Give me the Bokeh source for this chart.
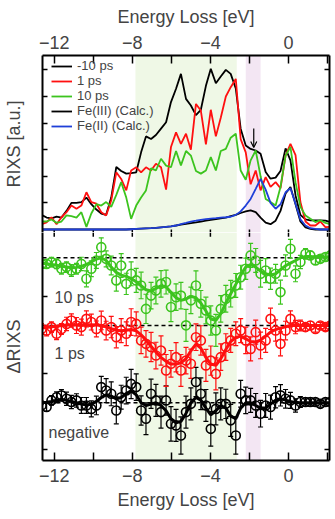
from bokeh.plotting import figure
from bokeh.layouts import column
from bokeh.models import (Range1d, LinearAxis, FixedTicker, CustomJSTickFormatter,
                          BoxAnnotation, Span, Label, Legend, LegendItem, Whisker,
                          TeeHead, ColumnDataSource, Arrow, OpenHead)
from bokeh.embed import file_html
from bokeh.resources import INLINE

# ---------------- data ----------------
energy = [-12.65, -12.39, -12.14, -11.88, -11.63, -11.37, -11.12, -10.86, -10.61, -10.35,
          -10.10, -9.84, -9.59, -9.34, -9.08, -8.82, -8.57, -8.31, -8.06, -7.80,
          -7.55, -7.30, -7.04, -6.79, -6.53, -6.27, -6.02, -5.76, -5.51, -5.25,
          -5.00, -4.74, -4.49, -4.23, -3.98, -3.72, -3.47, -3.21, -2.96, -2.70,
          -2.45, -2.19, -1.94, -1.68, -1.43, -1.17, -0.92, -0.66, -0.41, -0.15,
          0.10, 0.36, 0.61, 0.87, 1.12, 1.38, 1.63, 1.89, 2.14]

rixs_m10ps = [0.55, 0.45, 0.42, 0.48, 0.45, 0.70, 1.00, 1.00, 1.03, 1.20,
              0.95, 0.75, 0.60, 0.55, 1.20, 2.35, 2.20, 2.10, 2.12, 2.15,
              2.90, 3.50, 3.40, 3.55, 3.79, 4.03, 4.79, 5.29, 5.85, 4.91,
              4.66, 4.30, 4.50, 5.40, 6.04, 5.50, 5.75, 6.00, 5.85, 5.30,
              3.79, 3.16, 3.03, 2.97, 2.85, 2.16, 1.91, 1.95, 2.20, 3.05,
              2.60, 1.28, 0.55, 0.38, 0.34, 0.34, 0.34, 0.33, 0.28]
rixs_1ps = [0.20, 0.27, 0.46, 0.20, 0.46, 0.65, 0.90, 0.78, 0.90, 1.40,
            1.03, 0.97, 0.65, 0.53, 1.09, 2.15, 1.90, 1.47, 2.22, 2.34,
            2.15, 2.34, 2.22, 2.47, 2.34, 1.50, 3.10, 3.65, 3.22, 3.60,
            3.00, 4.72, 4.47, 3.20, 4.50, 3.50, 4.20, 5.00, 5.35, 5.66,
            3.40, 2.90, 1.70, 2.22, 1.47, 1.97, 1.60, 1.78, 1.55, 2.78,
            3.22, 2.80, 1.03, 0.30, 0.15, 0.15, 0.30, 0.09, 0.10]
rixs_10ps = [0.30, 0.30, 0.38, 0.25, 0.30, 0.53, 0.50, 0.45, 0.65, 0.10,
             0.60, 0.95, 0.90, 1.03, 0.85, 1.30, 1.78, 1.20, 0.40, 0.90,
             1.20, 1.47, 2.30, 2.22, 2.66, 2.40, 2.34, 2.95, 2.41, 2.95,
             2.78, 2.20, 2.10, 2.22, 2.72, 2.22, 2.95, 3.03, 3.45, 3.60,
             2.22, 1.87, 2.60, 2.97, 2.00, 1.15, 1.03, 0.90, 1.60, 2.78,
             3.10, 1.78, 0.85, 0.53, 0.40, 0.28, 0.35, 0.25, 0.20]
calc_fe3 = [0, 0, 0, 0, 0, 0, 0, 0, 0, 0,
            0, 0, 0, 0, 0, 0, 0, 0, 0.01, 0.02,
            0.03, 0.04, 0.05, 0.06, 0.08, 0.10, 0.12, 0.15, 0.18, 0.21,
            0.24, 0.27, 0.30, 0.33, 0.36, 0.39, 0.42, 0.45, 0.50, 0.55,
            0.62, 0.68, 0.72, 0.65, 0.45, 0.26, 0.20, 0.33, 0.70, 1.35,
            1.60, 0.95, 0.30, 0.08, 0.02, 0, 0, 0, 0]
calc_fe2 = [0, 0, 0, 0, 0, 0, 0, 0, 0, 0,
            0, 0, 0, 0, 0, 0, 0, 0, 0.01, 0.02,
            0.03, 0.04, 0.05, 0.06, 0.08, 0.10, 0.12, 0.15, 0.20, 0.25,
            0.30, 0.33, 0.36, 0.39, 0.41, 0.43, 0.45, 0.46, 0.48, 0.55,
            0.68, 0.90, 1.15, 1.53, 1.90, 1.50, 1.00, 0.78, 0.95, 1.40,
            1.55, 0.97, 0.38, 0.15, 0.05, 0.02, 0, 0, 0]

d_10ps = [-0.23, -0.23, -0.16, -0.23, -0.41, -0.35, -0.48, -0.41, -0.23, -0.79,
          -0.41, -0.10, 0.40, -0.04, -0.29, -0.85, -0.29, -0.98, -0.60, -0.85,
          -1.04, -1.92, -1.42, -1.23, -0.98, -0.91, -1.85, -1.48, -1.42, -2.54,
          -1.60, -1.04, -1.73, -1.98, -2.36, -2.73, -1.92, -1.54, -1.35, -1.04,
          -0.73, -0.41, 0.09, -0.10, -0.60, -0.48, -0.79, -0.60, -1.29, -0.29,
          0.34, -0.60, -0.16, 0.15, 0.09, -0.10, -0.04, 0.03, 0.09]
d_10ps_fit = [-0.20, -0.22, -0.25, -0.28, -0.32, -0.35, -0.37, -0.36, -0.32, -0.25,
              -0.15, -0.05, 0.00, -0.10, -0.35, -0.55, -0.65, -0.70, -0.78, -0.90,
              -1.05, -1.20, -1.25, -1.15, -1.05, -1.10, -1.30, -1.50, -1.60, -1.55,
              -1.45, -1.50, -1.70, -2.00, -2.30, -2.35, -2.10, -1.70, -1.35, -1.00,
              -0.65, -0.35, -0.25, -0.35, -0.50, -0.60, -0.65, -0.60, -0.45, -0.30,
              -0.20, -0.10, 0.00, 0.05, 0.05, 0.03, 0.02, 0.03, 0.05]
d_10ps_err = [0.15, 0.15, 0.18, 0.18, 0.20, 0.20, 0.22, 0.20, 0.25, 0.30,
              0.30, 0.30, 0.35, 0.30, 0.35, 0.40, 0.45, 0.40, 0.45, 0.45,
              0.50, 0.55, 0.50, 0.50, 0.50, 0.45, 0.55, 0.50, 0.50, 0.60,
              0.50, 0.55, 0.50, 0.50, 0.55, 0.60, 0.50, 0.50, 0.50, 0.45,
              0.45, 0.40, 0.45, 0.45, 0.50, 0.45, 0.40, 0.35, 0.45, 0.40,
              0.35, 0.30, 0.25, 0.20, 0.15, 0.15, 0.12, 0.12, 0.12]

d_1ps = [-0.13, -0.19, -0.06, -0.31, -0.13, 0.06, 0.19, 0.00, -0.06, 0.25,
         0.13, -0.13, 0.19, -0.19, -0.06, -0.44, -0.19, -0.31, 0.13, 0.06,
         -0.56, -0.69, -0.81, -1.13, -0.94, -1.69, -1.44, -1.19, -1.69, -1.32,
         -1.44, -0.44, -0.56, -1.50, -1.32, -1.82, -1.19, -0.81, -0.56, -0.31,
         -0.19, -0.56, -0.88, -0.25, -0.75, -0.56, 0.25, -0.19, -0.69, -0.19,
         0.25, -0.06, 0.00, -0.06, 0.00, -0.13, 0.00, -0.06, 0.00]
d_1ps_fit = [-0.10, -0.08, -0.05, -0.03, 0.00, 0.02, 0.03, 0.02, 0.00, 0.02,
             0.03, 0.02, 0.00, -0.05, -0.12, -0.18, -0.20, -0.18, -0.15, -0.20,
             -0.35, -0.55, -0.78, -1.00, -1.20, -1.35, -1.45, -1.45, -1.40, -1.25,
             -0.95, -0.70, -0.85, -1.20, -1.45, -1.50, -1.25, -0.90, -0.60, -0.45,
             -0.40, -0.50, -0.60, -0.62, -0.55, -0.40, -0.25, -0.15, -0.10, -0.05,
             0.00, 0.00, 0.00, 0.00, 0.00, 0.00, 0.00, 0.00, 0.00]
d_1ps_err = [0.20, 0.20, 0.20, 0.22, 0.20, 0.25, 0.25, 0.30, 0.30, 0.30,
             0.30, 0.30, 0.35, 0.35, 0.40, 0.40, 0.45, 0.45, 0.50, 0.45,
             0.50, 0.50, 0.55, 0.50, 0.55, 0.60, 0.50, 0.55, 0.60, 0.50,
             0.55, 0.50, 0.55, 0.60, 0.55, 0.60, 0.50, 0.50, 0.45, 0.45,
             0.45, 0.50, 0.45, 0.45, 0.50, 0.45, 0.40, 0.40, 0.45, 0.35,
             0.30, 0.25, 0.20, 0.15, 0.15, 0.12, 0.12, 0.12, 0.12]

d_neg = [-0.10, -0.16, 0.09, 0.21, 0.28, 0.15, 0.03, 0.09, -0.10, -0.10,
         -0.23, -0.10, 0.59, 0.46, 0.34, -0.29, 0.21, 0.46, 0.71, 0.59,
         -0.29, -0.60, 0.34, 0.09, -0.35, 0.09, -0.79, -0.85, -1.23, -0.35,
         -0.04, 0.78, 0.34, -0.10, -0.98, -0.23, -0.04, -0.04, -0.66, -1.23,
         0.34, 0.09, 0.09, -0.10, -0.41, -0.10, -0.16, 0.21, 0.28, 0.15,
         0.09, -0.10, 0.03, 0.03, 0.03, 0.03, -0.04, 0.03, 0.03]
d_neg_fit = [0.00, 0.02, 0.05, 0.10, 0.12, 0.10, 0.05, 0.00, -0.05, -0.08,
             -0.05, 0.05, 0.20, 0.30, 0.25, 0.15, 0.20, 0.35, 0.45, 0.30,
             0.00, -0.10, -0.05, 0.00, -0.10, -0.30, -0.60, -0.75, -0.70, -0.40,
             0.00, 0.20, 0.10, -0.20, -0.45, -0.30, -0.10, -0.20, -0.50, -0.60,
             -0.20, 0.00, 0.00, -0.10, -0.20, -0.20, -0.05, 0.10, 0.15, 0.10,
             0.05, 0.00, 0.00, 0.00, 0.00, 0.00, 0.00, 0.00, 0.00]
d_neg_err = [0.15, 0.15, 0.18, 0.20, 0.22, 0.25, 0.25, 0.25, 0.30, 0.30,
             0.30, 0.35, 0.40, 0.45, 0.45, 0.50, 0.45, 0.50, 0.55, 0.50,
             0.55, 0.60, 0.55, 0.60, 0.60, 0.55, 0.65, 0.60, 0.70, 0.60,
             0.60, 0.55, 0.60, 0.60, 0.65, 0.60, 0.60, 0.55, 0.60, 0.70,
             0.50, 0.50, 0.45, 0.45, 0.50, 0.45, 0.45, 0.40, 0.40, 0.35,
             0.30, 0.25, 0.20, 0.15, 0.15, 0.12, 0.12, 0.12, 0.12]

x_major = [-12, -8, -4, 0]
x_minor = [-10, -6, -2, 2]
upper_ticks = [1, 2, 3, 4, 5, 6]
lower_ticks = [-2.52, -5.41, -8.27]

# ---------------- styling constants ----------------
FONT = "Liberation Sans"
BLACK = "#000000"
RED = "#ff1010"
GREEN = "#3cc41e"
BLUE = "#1f3fd8"

OFF_10PS = -1.064
OFF_1PS = -3.609
OFF_NEG = -6.515
DIVIDER = -0.1128
W = 335

x_range = Range1d(-12.6, 2.1)


def make_fig(height, y_range, top, bottom):
    f = figure(width=W, height=height, output_backend="svg", toolbar_location=None,
               x_range=x_range, y_range=y_range,
               x_axis_location=None, y_axis_location=None,
               min_border_left=41, min_border_right=6,
               min_border_top=top, min_border_bottom=bottom)
    f.outline_line_color = None
    f.xgrid.visible = False
    f.ygrid.visible = False
    f.add_layout(BoxAnnotation(left=-7.84, right=-2.65, fill_color="#eff8e6", fill_alpha=1,
                               line_color=None, level="underlay"))
    f.add_layout(BoxAnnotation(left=-2.19, right=-1.43, fill_color="#f3e6f3", fill_alpha=1,
                               line_color=None, level="underlay"))
    return f


def x_axis(f, loc, standoff, label_standoff):
    ax = LinearAxis(ticker=FixedTicker(ticks=x_major, minor_ticks=x_minor),
                    axis_label="Energy Loss [eV]")
    ax.axis_line_width = 2
    ax.major_tick_in = 8
    ax.major_tick_out = 0
    ax.minor_tick_in = 8
    ax.minor_tick_out = 0
    ax.major_tick_line_width = 1.5
    ax.minor_tick_line_width = 1.5
    ax.major_label_text_font = FONT
    ax.major_label_text_font_size = "18px"
    ax.major_label_standoff = standoff
    ax.axis_label_text_font = FONT
    ax.axis_label_text_font_size = "18px"
    ax.axis_label_text_font_style = "normal"
    ax.axis_label_standoff = label_standoff
    f.add_layout(ax, loc)


def y_axis(f, loc, ticks, label=None):
    ax = LinearAxis(ticker=FixedTicker(ticks=ticks, minor_ticks=[]),
                    formatter=CustomJSTickFormatter(code="return ''"))
    ax.axis_line_width = 2
    ax.major_tick_in = 5
    ax.major_tick_out = 0
    ax.major_tick_line_width = 1.5
    ax.major_label_text_font_size = "1px"
    ax.major_label_standoff = 0
    if label:
        ax.axis_label = label
        ax.axis_label_text_font = FONT
        ax.axis_label_text_font_size = "18px"
        ax.axis_label_text_font_style = "normal"
        ax.axis_label_standoff = 19
    f.add_layout(ax, loc)


# ---------- upper panel: RIXS spectra ----------
up = make_fig(232, Range1d(DIVIDER, 6.541), 55, 0)
x_axis(up, "above", 7, 6)
y_axis(up, "left", upper_ticks, "RIXS [a.u.]")
y_axis(up, "right", upper_ticks)
up.segment(x0=x_major + x_minor, y0=0, x1=x_major + x_minor, y1=DIVIDER,
           line_color=BLACK, line_width=1.5)

r_m10 = up.line(energy, rixs_m10ps, line_color=BLACK, line_width=1.8)
r_1 = up.line(energy, rixs_1ps, line_color=RED, line_width=1.8)
r_10 = up.line(energy, rixs_10ps, line_color=GREEN, line_width=1.8)
r_fe3 = up.line(energy, calc_fe3, line_color=BLACK, line_width=1.8)
r_fe2 = up.line(energy, calc_fe2, line_color=BLUE, line_width=1.8)

up.add_layout(Arrow(x_start=-1.78, y_start=3.8, x_end=-1.78, y_end=3.08,
                    line_width=1.2, end=OpenHead(size=6, line_width=1.2)))

legend = Legend(items=[LegendItem(label="-10 ps", renderers=[r_m10]),
                       LegendItem(label="1 ps", renderers=[r_1]),
                       LegendItem(label="10 ps", renderers=[r_10]),
                       LegendItem(label="Fe(III) (Calc.)", renderers=[r_fe3]),
                       LegendItem(label="Fe(II) (Calc.)", renderers=[r_fe2])],
                location=(9, 99), padding=0, margin=0, spacing=0,
                label_text_font=FONT, label_text_font_size="13px",
                label_height=14, glyph_height=14, glyph_width=21, label_standoff=5,
                background_fill_alpha=0, border_line_color=None)
up.add_layout(legend)

# ---------- lower panel: difference spectra ----------
lo = make_fig(287, Range1d(-8.684, DIVIDER), 0, 59)
x_axis(lo, "below", 8, 5)
y_axis(lo, "left", lower_ticks, "\u0394RIXS")
y_axis(lo, "right", lower_ticks)
lo.segment(x0=x_major + x_minor, y0=DIVIDER, x1=x_major + x_minor, y1=-0.27,
           line_color=BLACK, line_width=1.5)

for off in (OFF_10PS, OFF_1PS, OFF_NEG):
    lo.add_layout(Span(location=off, dimension="width", line_color=BLACK,
                       line_width=1.5, line_dash="4 3", level="underlay"))


def delta_series(vals, fit, err, off, color):
    y = [off + v for v in vals]
    src = ColumnDataSource(dict(x=energy, y=y,
                                lo=[a - e for a, e in zip(y, err)],
                                hi=[a + e for a, e in zip(y, err)]))
    lo.add_layout(Whisker(source=src, base="x", lower="lo", upper="hi",
                          dimension="height", line_color=color, line_width=1.2,
                          upper_head=TeeHead(size=5, line_color=color, line_width=1.2),
                          lower_head=TeeHead(size=5, line_color=color, line_width=1.2)))
    lo.line(energy, [off + v for v in fit], line_color=color, line_width=3)
    lo.scatter("x", "y", source=src, marker="circle", size=9, fill_color=None,
               line_color=color, line_width=1.6)


delta_series(d_neg, d_neg_fit, d_neg_err, OFF_NEG, BLACK)
delta_series(d_1ps, d_1ps_fit, d_1ps_err, OFF_1PS, RED)
delta_series(d_10ps, d_10ps_fit, d_10ps_err, OFF_10PS, GREEN)

for txt, xx, yy in (("10 ps", -11.98, -2.56), ("1 ps", -11.98, -4.66), ("negative", -12.29, -7.63)):
    lo.add_layout(Label(x=xx, y=yy, text=txt, text_font=FONT, text_font_size="16px",
                        text_baseline="alphabetic", text_align="left"))

layout = column(up, lo, spacing=0)
open("out.html", "w").write(file_html(layout, INLINE))
